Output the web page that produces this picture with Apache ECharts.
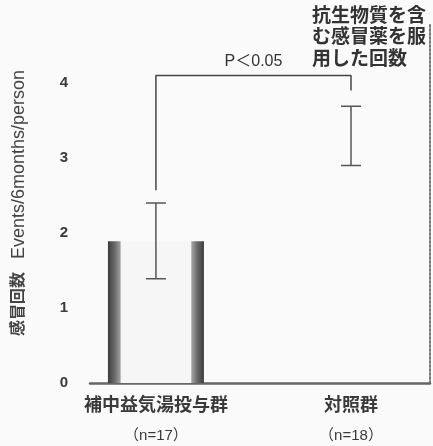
<!DOCTYPE html>
<html><head><meta charset="utf-8">
<script src="https://cdn.jsdelivr.net/npm/echarts@6/dist/echarts.min.js"></script>
<style>html,body{margin:0;padding:0;background:#fafafa;}#c{width:433px;height:446px;}</style>
</head><body><div id="c"></div>
<script>
const categories = ['補中益気湯投与群', '対照群'];
const nLabels = ['（n=17）', '（n=18）'];
const means = [1.89, 3.3];
const errLow = [1.39, 2.9];
const errHigh = [2.4, 3.69];
const bracketTop = 4.1;
const bracketEnds = [2.57, 3.9];
const pLabel = 'P＜0.05';
const noteLines = ['抗生物質を含', 'む感冒薬を服', '用した回数'];
const yName = ['感冒回数', 'Events/6months/person'];

const FONT = '"Liberation Sans", "Noto Sans CJK JP", sans-serif';
const chart = echarts.init(document.getElementById('c'));

const barData = means.map((v, i) => ({
  value: [i, v],
  itemStyle: i === 0 ? {
    color: new echarts.graphic.LinearGradient(0, 0, 1, 0, [
      {offset: 0, color: '#3c3c3c'}, {offset: 0.07, color: '#6a6a6a'},
      {offset: 0.125, color: '#9a9a9a'}, {offset: 0.14, color: '#f6f6f6'},
      {offset: 0.86, color: '#f6f6f6'}, {offset: 0.875, color: '#a0a0a0'},
      {offset: 0.93, color: '#6a6a6a'}, {offset: 1, color: '#3c3c3c'}
    ])
  } : {color: 'rgba(0,0,0,0.0)'}
}));
const errData = means.map((v, i) => [i, errLow[i], errHigh[i]]);
const bracketData = [[0, bracketEnds[0]], [0, bracketTop], [1, bracketTop], [1, bracketEnds[1]]];

chart.setOption({
  backgroundColor: '#fafafa',
  animation: false,
  grid: {left: 90, right: 3, top: 23, bottom: 63},
  xAxis: {
    type: 'value', min: -0.338, max: 1.405,
    splitLine: {show: false},
    axisLine: {show: true, onZero: false, lineStyle: {color: '#666', width: 2.5}},
    axisTick: {show: false},
    axisLabel: {
      customValues: [0, 1], margin: 8,
      formatter: v => '{a|' + categories[Math.round(v)] + '}\n{b|' + nLabels[Math.round(v)] + '}',
      rich: {
        a: {fontFamily: FONT, fontSize: 18, fontWeight: 'bold', color: '#3a3a3a', lineHeight: 30},
        b: {fontFamily: FONT, fontSize: 15, color: '#3a3a3a', lineHeight: 30}
      }
    }
  },
  yAxis: [{
    type: 'value', min: 0, max: 4.8, interval: 1,
    splitLine: {show: false}, axisLine: {show: false}, axisTick: {show: false},
    axisLabel: {showMaxLabel: false, margin: 22, fontFamily: FONT, fontSize: 15, fontWeight: 'bold', color: '#3a3a3a'},
    name: '{c|' + yName[0] + '}{s| }{e|' + yName[1] + '}',
    nameLocation: 'middle', nameRotate: 90, nameGap: 62,
    nameTextStyle: {
      rich: {
        c: {fontFamily: FONT, fontSize: 16, fontWeight: 'bold', color: '#444'},
        s: {fontSize: 13, width: 13},
        e: {fontFamily: FONT, fontSize: 18, color: '#444'}
      }
    }
  }, {
    type: 'value', min: 0, max: 4.8, position: 'right',
    splitLine: {show: false}, axisTick: {show: false}, axisLabel: {show: false},
    axisLine: {show: true, lineStyle: {color: '#777', width: 2, type: [2, 2]}}
  }],
  series: [{
    type: 'bar', barWidth: 96, data: barData, silent: true, z: 1
  }, {
    type: 'custom', data: errData, silent: true, z: 5,
    renderItem: (params, api) => {
      const x = api.value(0);
      const lo = api.coord([x, api.value(1)]);
      const hi = api.coord([x, api.value(2)]);
      const h = 10;
      const st = {stroke: '#555', lineWidth: 1.5};
      return {type: 'group', children: [
        {type: 'line', shape: {x1: hi[0], y1: hi[1], x2: lo[0], y2: lo[1]}, style: st},
        {type: 'line', shape: {x1: hi[0] - h, y1: hi[1], x2: hi[0] + h, y2: hi[1]}, style: st},
        {type: 'line', shape: {x1: lo[0] - h, y1: lo[1], x2: lo[0] + h, y2: lo[1]}, style: st}
      ]};
    }
  }, {
    type: 'line', data: bracketData, symbol: 'none', silent: true, z: 5,
    lineStyle: {color: '#444', width: 1.5},
    markPoint: {
      symbol: 'circle', symbolSize: 0,
      data: [{coord: [0.5, bracketTop]}],
      label: {show: true, formatter: pLabel, position: 'top', distance: 6,
        fontFamily: FONT, fontSize: 16, color: '#333'}
    }
  }],
  graphic: [{
    type: 'text', left: 312, top: 6,
    style: {text: noteLines.join('\n'), fontFamily: FONT, fontSize: 19, fontWeight: 'bold',
      lineHeight: 21.5, fill: '#333'}
  }]
});
</script></body></html>
